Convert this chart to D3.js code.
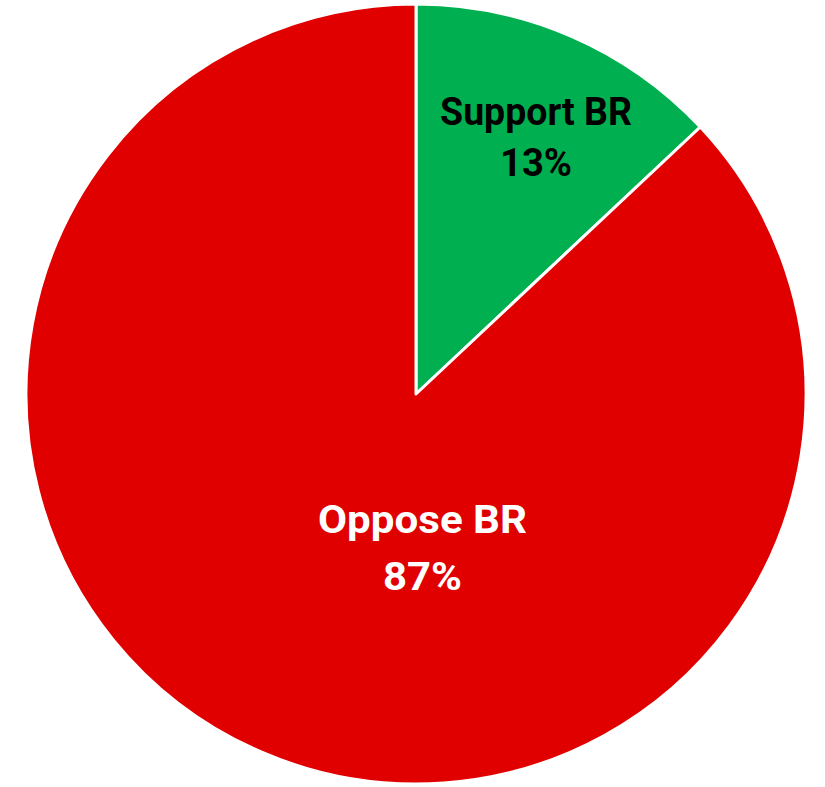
<!DOCTYPE html>
<html>
<head>
<meta charset="utf-8">
<script src="https://cdn.jsdelivr.net/npm/d3@7"></script>
<style>
  html, body { margin: 0; padding: 0; background: #fff; }
  svg { display: block; }
</style>
</head>
<body>
<svg id="chart" width="825" height="787"></svg>
<script>
// Slice data
const categories = ["Support BR", "Oppose BR"];
const shares = [13, 87];
const colors = ["#00B050", "#E00000"];
const labelColors = ["#000000", "#ffffff"];

const width = 825, height = 787;
const cx = 416, cy = 394, radius = 390;

const svg = d3.select("#chart");
const g = svg.append("g").attr("transform", `translate(${cx},${cy})`);

const pie = d3.pie().sort(null).value(d => d.value);
const data = categories.map((c, i) => ({ name: c, value: shares[i], color: colors[i], label: labelColors[i] }));
const arcs = pie(data);

const arc = d3.arc().innerRadius(0).outerRadius(radius);

g.selectAll("path.slice")
  .data(arcs)
  .join("path")
  .attr("class", "slice")
  .attr("d", arc)
  .attr("fill", d => d.data.color)
  .attr("stroke", "#fff")
  .attr("stroke-width", 3)
  .attr("stroke-linejoin", "round");

// Label anchors: the small slice sits along its own bisector, the large one below centre
const labelLayout = [
  { gap: 25, nameWidth: 192, pctWidth: 72 },
  { gap: 28, nameWidth: 209, pctWidth: 79 }
];
function labelPos(d, i) {
  if (i === 0) {
    const a = (d.startAngle + d.endAngle) / 2 + 0.049;
    const r = radius * 0.697;
    return [Math.sin(a) * r, -Math.cos(a) * r];
  }
  return [6.5, radius * 0.428];
}

const labels = g.selectAll("g.label")
  .data(arcs)
  .join("g")
  .attr("class", "label")
  .attr("transform", (d, i) => `translate(${labelPos(d, i)})`);

labels.append("text")
  .attr("text-anchor", "middle")
  .attr("y", (d, i) => -labelLayout[i].gap)
  .attr("textLength", (d, i) => labelLayout[i].nameWidth)
  .attr("lengthAdjust", "spacingAndGlyphs")
  .attr("fill", d => d.data.label)
  .style("font-family", "Roboto, sans-serif")
  .style("font-weight", "bold")
  .style("font-size", "38px")
  .text(d => d.data.name);

labels.append("text")
  .attr("text-anchor", "middle")
  .attr("y", (d, i) => labelLayout[i].gap + 1)
  .attr("textLength", (d, i) => labelLayout[i].pctWidth)
  .attr("lengthAdjust", "spacingAndGlyphs")
  .attr("fill", d => d.data.label)
  .style("font-family", "Roboto, sans-serif")
  .style("font-weight", "bold")
  .style("font-size", "38px")
  .text(d => d.data.value + "%");
</script>
</body>
</html>
